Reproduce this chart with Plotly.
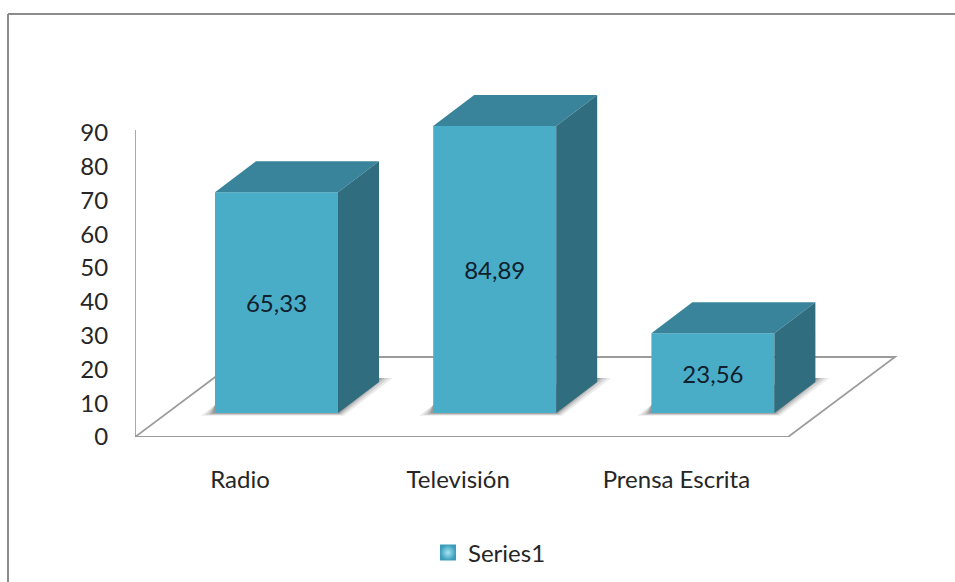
import plotly.graph_objects as go

categories = ["Radio", "Televisión", "Prensa Escrita"]
values = [65.33, 84.89, 23.56]
y_ticks = [0, 10, 20, 30, 40, 50, 60, 70, 80, 90]
series_name = "Series1"

# Chart geometry in axis units
X_STEP_PX = 218.2
Y_PX = 3.38
X0_PX = 276.5
def dx(px): return px / X_STEP_PX
def dy(px): return px / Y_PX

BAR_W = dx(123)
BASE = dy(24)
DEP_X, DEP_Y = dx(41), dy(31)
FLOOR_X, FLOOR_Y = dx(107), dy(80)
AXIS_X = dx(135 - X0_PX)
FLOOR_R = dx(788 - X0_PX)
LABEL_SHIFT = dx(36.5)
positions = list(range(len(categories)))

FRONT, TOP, SIDE = "#4AADC8", "#39849B", "#306D7F"
LINE = "#9C9C9C"
FONT = "Lato"
FS = 24

fig = go.Figure()
shapes = []

def path(points):
    return "M " + " L ".join(f"{a},{b}" for a, b in points) + " Z"

# floor
shapes.append(dict(type="path", xref="x", yref="y", layer="below",
                   path=path([(AXIS_X, 0), (FLOOR_R, 0), (FLOOR_R + FLOOR_X, FLOOR_Y), (AXIS_X + FLOOR_X, FLOOR_Y)]),
                   line=dict(color=LINE, width=1.8), fillcolor="white"))

# soft floor shadows
for p in positions:
    l, r = p - BAR_W / 2, p + BAR_W / 2
    for grow, op in [(14, .10), (10, .14), (6, .20), (3, .25)]:
        g = dx(grow)
        shapes.append(dict(type="path", xref="x", yref="y", layer="below",
                           path=path([(l - g, BASE - dy(grow * .2)),
                                      (r + g * .4, BASE - dy(grow * .2)),
                                      (r + DEP_X + g, BASE + DEP_Y + dy(4)),
                                      (r + DEP_X, BASE + DEP_Y + dy(4)),
                                      (l, BASE + dy(8))]),
                           line=dict(width=0), fillcolor=f"rgba(70,70,70,{op})"))

# frame
W, H = 955, 582
ML, MR, MT, MB = 135, 55, 85, 145
pw, ph = W - ML - MR, H - MT - MB
def pxp(x): return (x - ML) / pw
def pyp(y): return (H - MB - y) / ph
shapes.append(dict(type="line", xref="paper", yref="paper", x0=pxp(8), x1=pxp(8), y0=pyp(14), y1=pyp(582),
                   line=dict(color="#8C8C8C", width=2)))
shapes.append(dict(type="line", xref="paper", yref="paper", x0=pxp(8), x1=pxp(955), y0=pyp(14), y1=pyp(14),
                   line=dict(color="#8C8C8C", width=2)))

fig.add_trace(go.Bar(x=positions, y=values, base=[BASE] * 3, width=BAR_W,
                     marker=dict(color=FRONT, line=dict(width=0)),
                     text=values, texttemplate="%{y:.2f}", textposition="inside",
                     insidetextanchor="middle", textangle=0,
                     insidetextfont=dict(family=FONT, size=FS, color="#10202C"),
                     showlegend=False, name=series_name))

for p, v in zip(positions, values):
    l, r, t = p - BAR_W / 2, p + BAR_W / 2, v + BASE
    fig.add_trace(go.Scatter(x=[l, r, r + DEP_X, l + DEP_X, l], y=[t, t, t + DEP_Y, t + DEP_Y, t],
                             mode="lines", fill="toself", fillcolor=TOP, line=dict(width=0),
                             showlegend=False, hoverinfo="skip"))
    fig.add_trace(go.Scatter(x=[r, r + DEP_X, r + DEP_X, r, r], y=[t, t + DEP_Y, BASE + DEP_Y, BASE, t],
                             mode="lines", fill="toself", fillcolor=SIDE, line=dict(width=0),
                             showlegend=False, hoverinfo="skip"))

# vertical axis line
fig.add_trace(go.Scatter(x=[AXIS_X, AXIS_X], y=[0, dy(307)], mode="lines",
                         line=dict(color="#8C8C8C", width=1.5), showlegend=False, hoverinfo="skip"))

# legend entry
fig.add_trace(go.Scatter(x=[None], y=[None], mode="markers", name=series_name,
                         marker=dict(symbol="square", size=16, color="#3A9CB8",
                                     gradient=dict(type="radial", color="#A5E6F5"),
                                     line=dict(width=0))))

fig.update_layout(
    width=W, height=H, autosize=False,
    margin=dict(l=ML, r=MR, t=MT, b=MB, pad=0, autoexpand=False),
    paper_bgcolor="white", plot_bgcolor="rgba(0,0,0,0)",
    separators=",.",
    shapes=shapes,
    hovermode=False,
    font=dict(family=FONT, size=FS, color="#262626"),
    xaxis=dict(range=[AXIS_X, dx(900 - X0_PX)], tickmode="array",
               tickvals=[p - LABEL_SHIFT for p in positions], ticktext=categories,
               showgrid=False, zeroline=False, showline=False,
               ticks="outside", ticklen=21, tickcolor="rgba(0,0,0,0)"),
    yaxis=dict(range=[0, dy(H - MB - MT)], tickmode="array", tickvals=y_ticks,
               showgrid=False, zeroline=False, showline=False,
               ticks="outside", ticklen=21, tickcolor="rgba(0,0,0,0)"),
    legend=dict(x=pxp(428), y=pyp(553), xanchor="left", yanchor="middle",
                bgcolor="rgba(0,0,0,0)", font=dict(family=FONT, size=FS, color="#262626"),
                itemwidth=30, tracegroupgap=0),
)

fig.write_html("out.html", post_script="document.body.style.margin='0';",
               config=dict(displayModeBar=False))
